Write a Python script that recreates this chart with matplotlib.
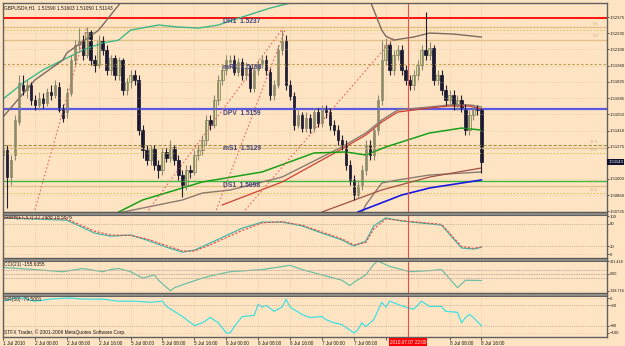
import matplotlib
matplotlib.use("Agg")
import matplotlib.pyplot as plt
from matplotlib.patches import Rectangle
import numpy as np

plt.rcParams["font.family"] = ["Liberation Sans", "DejaVu Sans"]

# GBPUSD H1, bars from 1 Jul 16:00 to 8 Jul 16:00
bar_open = [1.51203, 1.51246, 1.51016, 1.51203, 1.51483, 1.51797, 1.51755, 1.51797, 1.51670, 1.51628,
            1.51687, 1.51645, 1.51738, 1.51712, 1.51780, 1.51602, 1.51568, 1.51729, 1.52010, 1.52137,
            1.52179, 1.52052, 1.52247, 1.52010, 1.51967, 1.52179, 1.52094, 1.51925, 1.52027, 1.51882,
            1.52010, 1.51755, 1.51823, 1.51882, 1.51840, 1.51415, 1.51246, 1.51161, 1.51262, 1.51118,
            1.51076, 1.51229, 1.51178, 1.51271, 1.51161, 1.51033, 1.50948, 1.51076, 1.51059, 1.51203,
            1.51246, 1.51330, 1.51500, 1.51458, 1.51670, 1.51840, 1.51925, 1.51993, 1.52010, 1.51908,
            1.51993, 1.51882, 1.51942, 1.51772, 1.51925, 1.51976, 1.52010, 1.51908, 1.51712, 1.51797,
            1.52094, 1.52179, 1.51797, 1.51704, 1.51458, 1.51543, 1.51432, 1.51517, 1.51432, 1.51568,
            1.51475, 1.51585, 1.51568, 1.51458, 1.51415, 1.51330, 1.51288, 1.51118, 1.50991, 1.50863,
            1.50948, 1.51076, 1.51288, 1.51203, 1.51415, 1.51670, 1.52010, 1.52137, 1.51925, 1.52052,
            1.52094, 1.51925, 1.51840, 1.51797, 1.51882, 1.51967, 1.52094, 1.52052, 1.52111, 1.51840,
            1.51882, 1.51755, 1.51670, 1.51712, 1.51628, 1.51670, 1.51602, 1.51415, 1.51543, 1.51602,
            1.51590]
bar_high = [1.51288, 1.51288, 1.51203, 1.51543, 1.51882, 1.51882, 1.51840, 1.51823, 1.51712, 1.51738,
            1.51729, 1.51772, 1.51797, 1.51840, 1.51823, 1.51636, 1.51772, 1.52052, 1.52179, 1.52281,
            1.52222, 1.52290, 1.52264, 1.52052, 1.52222, 1.52213, 1.52137, 1.52052, 1.52052, 1.52035,
            1.52027, 1.51857, 1.51925, 1.51925, 1.51882, 1.51458, 1.51288, 1.51288, 1.51288, 1.51161,
            1.51262, 1.51262, 1.51330, 1.51288, 1.51203, 1.51076, 1.51118, 1.51118, 1.51246, 1.51288,
            1.51373, 1.51543, 1.51543, 1.51712, 1.51882, 1.51967, 1.52052, 1.52052, 1.52052, 1.52027,
            1.52027, 1.51993, 1.51967, 1.51959, 1.52010, 1.52052, 1.52052, 1.51942, 1.51840, 1.52137,
            1.52264, 1.52222, 1.51840, 1.51738, 1.51585, 1.51568, 1.51568, 1.51551, 1.51602, 1.51602,
            1.51628, 1.51628, 1.51602, 1.51500, 1.51458, 1.51373, 1.51330, 1.51161, 1.51033, 1.50991,
            1.51118, 1.51330, 1.51330, 1.51458, 1.51712, 1.52179, 1.52196, 1.52162, 1.52094, 1.52137,
            1.52137, 1.51967, 1.51882, 1.51925, 1.52010, 1.52137, 1.52417, 1.52162, 1.52137, 1.51925,
            1.51925, 1.51797, 1.51755, 1.51755, 1.51712, 1.51712, 1.51636, 1.51585, 1.51636, 1.51628,
            1.51603]
bar_low = [1.51161, 1.50753, 1.50948, 1.51161, 1.51458, 1.51712, 1.51687, 1.51628, 1.51585, 1.51585,
           1.51602, 1.51619, 1.51670, 1.51687, 1.51568, 1.51483, 1.51517, 1.51704, 1.51967, 1.52094,
           1.52010, 1.52027, 1.51967, 1.51908, 1.51942, 1.52052, 1.51882, 1.51882, 1.51840, 1.51840,
           1.51712, 1.51712, 1.51772, 1.51797, 1.51373, 1.51178, 1.51118, 1.51118, 1.51076, 1.51008,
           1.51033, 1.51144, 1.51144, 1.51118, 1.50991, 1.50846, 1.50906, 1.51008, 1.51033, 1.51161,
           1.51203, 1.51288, 1.51415, 1.51432, 1.51628, 1.51797, 1.51882, 1.51942, 1.51882, 1.51874,
           1.51840, 1.51840, 1.51738, 1.51738, 1.51882, 1.51942, 1.51882, 1.51670, 1.51670, 1.51772,
           1.52052, 1.51755, 1.51670, 1.51415, 1.51432, 1.51398, 1.51398, 1.51390, 1.51398, 1.51441,
           1.51441, 1.51517, 1.51415, 1.51373, 1.51288, 1.51246, 1.51076, 1.50948, 1.50821, 1.50838,
           1.50906, 1.51033, 1.51161, 1.51161, 1.51373, 1.51628, 1.51967, 1.51882, 1.51882, 1.52010,
           1.51882, 1.51797, 1.51755, 1.51755, 1.51840, 1.51925, 1.52010, 1.52010, 1.51797, 1.51797,
           1.51712, 1.51628, 1.51628, 1.51585, 1.51585, 1.51568, 1.51373, 1.51373, 1.51500, 1.51543,
           1.51050]
bar_close = [1.51246, 1.51016, 1.51161, 1.51500, 1.51814, 1.51755, 1.51797, 1.51670, 1.51628, 1.51687,
             1.51645, 1.51738, 1.51712, 1.51797, 1.51585, 1.51517, 1.51729, 1.52010, 1.52137, 1.52179,
             1.52052, 1.52247, 1.52010, 1.51967, 1.52179, 1.52094, 1.51925, 1.52027, 1.51882, 1.52010,
             1.51755, 1.51823, 1.51882, 1.51840, 1.51415, 1.51246, 1.51161, 1.51262, 1.51118, 1.51076,
             1.51229, 1.51178, 1.51271, 1.51161, 1.51033, 1.50948, 1.51076, 1.51059, 1.51203, 1.51246,
             1.51330, 1.51500, 1.51458, 1.51670, 1.51840, 1.51925, 1.52010, 1.52010, 1.51908, 1.51993,
             1.51882, 1.51942, 1.51772, 1.51925, 1.51976, 1.52010, 1.51925, 1.51712, 1.51797, 1.52094,
             1.52179, 1.51797, 1.51704, 1.51458, 1.51543, 1.51432, 1.51517, 1.51432, 1.51568, 1.51475,
             1.51585, 1.51568, 1.51458, 1.51415, 1.51330, 1.51288, 1.51118, 1.50991, 1.50863, 1.50948,
             1.51076, 1.51288, 1.51203, 1.51415, 1.51670, 1.52010, 1.52137, 1.51925, 1.52052, 1.52094,
             1.51925, 1.51840, 1.51797, 1.51882, 1.51967, 1.52094, 1.52052, 1.52111, 1.51840, 1.51882,
             1.51755, 1.51670, 1.51712, 1.51628, 1.51670, 1.51602, 1.51415, 1.51543, 1.51602, 1.51585,
             1.51143]

time_idx = list(range(0, 121, 8))
time_labels = ["1 Jul 2010", "2 Jul 00:00", "2 Jul 08:00", "2 Jul 16:00", "5 Jul 00:00",
               "5 Jul 08:00", "5 Jul 16:00", "6 Jul 00:00", "6 Jul 08:00", "6 Jul 16:00",
               "7 Jul 00:00", "7 Jul 08:00", "7 Jul 16:00", "8 Jul 00:00", "8 Jul 08:00",
               "8 Jul 16:00"]
price_ticks = [1.52375, 1.52235, 1.52100, 1.51960, 1.51825, 1.51685, 1.51550, 1.51410,
               1.51275, 1.51000, 1.50860, 1.50725]

# pivot levels
piv_names = ["DR1", "mR1", "DPV", "mS1", "DS1"]
piv_vals = [1.5237, 1.5198, 1.5159, 1.5129, 1.5098]
# fibonacci levels on the right
fib_solid = [1.52290, 1.52179, 1.51262, 1.50940]
fib_dot = [1.52264, 1.51220, 1.50880]
fib_labels = ["6.6", "2.0", "38.8", "38.6", "38.7", "38.4"]
fib_label_y = [1.52300, 1.52195, 1.51300, 1.51230, 1.50955, 1.50885]

# moving averages and bands (bar index, price)
teal_i = [0, 5, 10, 15, 20, 25, 29, 32, 39, 44, 49, 54, 60, 67, 74, 80]
teal_p = [1.51678, 1.51814, 1.51925, 1.52010, 1.52094, 1.52154, 1.52179, 1.52264, 1.52307, 1.52290,
          1.52281, 1.52307, 1.52375, 1.52451, 1.52510, 1.52604]
gup_i = [0, 8, 15, 16, 24, 31, 60, 91, 92, 95, 96, 98, 103, 107, 113, 120]
gup_p = [1.51526, 1.51840, 1.52010, 1.52069, 1.52264, 1.52561, 1.52859, 1.52561, 1.52519, 1.52264,
         1.52213, 1.52179, 1.52205, 1.52239, 1.52230, 1.52205]
gmid_i = [29, 45, 50, 57, 70, 80, 85, 91, 95, 99, 107, 112, 117, 120]
gmid_p = [1.50711, 1.50821, 1.50880, 1.50906, 1.51016, 1.51186, 1.51271, 1.51390, 1.51500, 1.51585,
          1.51611, 1.51628, 1.51628, 1.51611]
red_i = [55, 70, 80, 85, 91, 95, 99, 107, 112, 117, 120]
red_p = [1.50779, 1.50974, 1.51161, 1.51254, 1.51373, 1.51483, 1.51568, 1.51602, 1.51619, 1.51619,
         1.51594]
green_i = [29, 35, 50, 65, 78, 86, 91, 96, 107, 115, 120]
green_p = [1.50719, 1.50821, 1.50974, 1.51059, 1.51220, 1.51229, 1.51203, 1.51271, 1.51390, 1.51432,
           1.51415]
glow_i = [90, 91, 95, 99, 107, 120]
glow_p = [1.50711, 1.50779, 1.50965, 1.50991, 1.51033, 1.51059]
redlow_i = [80, 95, 107, 120]
redlow_p = [1.50719, 1.50906, 1.51016, 1.51093]
blue_i = [89, 100, 107, 120]
blue_p = [1.50719, 1.50863, 1.50923, 1.50991]

# dotted trend lines (start bar, start price, end bar, end price)
trend_lines = [(8, 1.50736, 21, 1.52290), (36.5, 1.50736, 70.25, 1.52281),
               (53.5, 1.50736, 70.75, 1.52264), (60.75, 1.50736, 98, 1.52196)]

# indicators
sto_i = [0, 16, 23, 27, 32, 36, 41, 45, 48, 52, 60, 65, 70, 75, 80, 85, 88, 91, 93, 96, 100, 110, 115, 118, 120]
sto_main = [95, 89, 55, 47, 50, 37, 18, 5, 10, 29, 68, 84, 84, 74, 55, 37, 21, 34, 74, 95, 87, 76, 16, 13, 17.8]
sto_sig = [96, 92, 60, 50, 49, 40, 22, 8, 8, 24, 62, 82, 85, 76, 58, 40, 24, 30, 66, 92, 88, 78, 20, 15, 18.6]

cci_i = [0, 8, 15, 20, 25, 27, 29, 32, 35, 38, 39, 42, 43, 46, 50, 52, 57, 65, 72, 75,
         80, 85, 87, 88, 91, 93, 94, 97, 100, 102, 107, 110, 114, 116, 120]
cci_v = [151, 101, 51, 126, 51, 101, 126, 51, -99, -24, -149, -398, -324, -224, -99, -49, 51, 101, 201, 101,
         -24, -149, -274, -199, -24, 226, 301, 176, 101, 51, 76, 101, -324, -149, -155.6]

wpr_i = [0, 3, 5, 8, 12, 16, 17, 20, 25, 29, 33, 37, 40, 41, 45, 48, 50, 52, 54, 56,
         57, 58, 60, 63, 64, 65, 66, 68, 70, 71, 72, 75, 77, 80, 81, 83, 85, 88, 89, 90,
         91, 93, 95, 96, 97, 99, 101, 103, 105, 107, 110, 111, 114, 115, 116, 117, 118, 120]
wpr_v = [-9, 0, 0, -9, -3, 0, 0, -3, -3, -9, -9, -12, -9, -24, -53, -79, -71, -56, -71, -100,
         -100, -82, -53, -50, -18, -26, -21, -38, -26, -3, -26, -47, -56, -53, -62, -71, -76, -100, -91, -71,
         -82, -62, -12, -26, -9, -18, -26, -32, -9, -24, -24, -38, -41, -71, -56, -47, -56, -79.5]

BG = "#FFE4C4"
TXT = "#1A1A1A"
FS = 3.5
W, H = 625, 346
fig = plt.figure(figsize=(6.25, 3.46), dpi=100)
fig.patch.set_facecolor(BG)


def rect(x0, y0, x1, y1):
    return [x0 / W, 1 - y1 / H, (x1 - x0) / W, (y1 - y0) / H]


# separators between the panels
for y0, y1 in ((211.5, 214.5), (257.5, 260.5), (292.5, 295.5)):
    fig.patches.append(Rectangle((3 / W, 1 - y1 / H), 604 / W, (y1 - y0) / H, transform=fig.transFigure,
                                 fc="#8E8A86", ec="#555555", lw=0.6))

ax = fig.add_axes(rect(3, 3, 607, 212))
ax_s = fig.add_axes(rect(3, 214, 607, 258), sharex=ax)
ax_c = fig.add_axes(rect(3, 260, 607, 293), sharex=ax)
ax_w = fig.add_axes(rect(3, 295, 607, 337), sharex=ax)

for a in (ax, ax_s, ax_c, ax_w):
    a.set_facecolor(BG)
    for s in a.spines.values():
        s.set_color("#606060")
        s.set_linewidth(1.0)
    a.yaxis.tick_right()
    a.tick_params(axis="y", labelsize=3.1, length=1.5, width=0.5, pad=0.6, colors=TXT)
    a.tick_params(axis="x", length=0, labelbottom=False)
    a.grid(True, color="#DCC4A2", ls=":", lw=0.5)

ax.set_xlim(0.5, 151.5)

# horizontal levels
ax.axhline(piv_vals[0], color="#FF0000", lw=1.3)
for yv in fib_solid:
    ax.axhline(yv, color="#DEC28A", lw=1.0)
for yv in fib_dot:
    ax.axhline(yv, color="#D8C860", lw=0.8, ls=(0, (1.5, 1.5)))
ax.axhline(piv_vals[1], color="#B89A40", lw=0.8, ls=(0, (2, 2)))
ax.axhline(piv_vals[3], color="#A09040", lw=0.8, ls=(0, (3, 1.5)))
ax.axhline(piv_vals[2], color="#5A5AE0", lw=1.6)
ax.axhline(piv_vals[4], color="#40B840", lw=1.0)
for t, v in zip(fib_labels, fib_label_y):
    ax.text(0.985, v, t, transform=ax.get_yaxis_transform(), fontsize=3.0, color="#C8B080",
            ha="right", va="bottom")

for t, v in zip(piv_names, piv_vals):
    ax.text(55.3, v - 0.00004, f"{t}  {v:.4f}", fontsize=4.8, color="#44447A", va="top",
            fontweight="bold")

ax.plot(teal_i, teal_p, color="#3CB88A", lw=1.0)
ax.plot(gup_i, gup_p, color="#7A6A60", lw=1.0)
ax.plot(gmid_i, gmid_p, color="#8A7A70", lw=1.0)
ax.plot(red_i, red_p, color="#D04030", lw=0.9)
ax.plot(green_i, green_p, color="#18A018", lw=1.1)
ax.plot(glow_i, glow_p, color="#8A7A70", lw=1.0)
ax.plot(redlow_i, redlow_p, color="#A05040", lw=0.9)
ax.plot(blue_i, blue_p, color="#1818E0", lw=1.2)

for (x0, p0, x1, p1) in trend_lines:
    ax.plot([x0, x1], [p0, p1], color="#F06060", lw=0.8, ls=(0, (1.5, 2)))

# candles
o = np.array(bar_open)
c = np.array(bar_close)
x = np.arange(len(o))
up = c >= o
ax.vlines(x, bar_low, bar_high, color=np.where(up, "#8A8A70", "#202030"), lw=0.8)
ax.bar(x[up], (c - o)[up], bottom=o[up], width=0.62, color="#EEE6A0", edgecolor="#7C7C5C", lw=0.5)
ax.bar(x[~up], (o - c)[~up], bottom=c[~up], width=0.62, color="#141430", edgecolor="#141430", lw=0.5)

ax.set_ylim(1.50719, 1.52494)
ax.set_yticks(price_ticks)
ax.set_yticklabels([f"{v:.5f}" for v in price_ticks])
ax.text(1.0025, bar_close[-1], f"{bar_close[-1]:.5f}", transform=ax.get_yaxis_transform(), fontsize=3.1,
        color="white", va="center", ha="left", bbox=dict(boxstyle="square,pad=0.25", fc="#101030", ec="none"))
ax.text(0.002, 0.99, f"GBPUSD#,H1  {bar_open[-1]:.5f} {bar_high[-1]:.5f} {bar_low[-1]:.5f} {bar_close[-1]:.5f}",
        transform=ax.transAxes, fontsize=FS, color=TXT, va="top")

# stochastic
ax_s.plot(sto_i, sto_main, color="#40B8A8", lw=0.9)
ax_s.plot(sto_i, sto_sig, color="#F04040", lw=0.8, ls=(0, (2, 1.5)))
ax_s.set_ylim(-10.5, 105.3)
ax_s.set_yticks([100, 80, 20, 0])
for lv in (80, 20):
    ax_s.axhline(lv, color="#B8A890", lw=0.5, ls=":")
ax_s.text(0.002, 0.97, "Stoch(17,3,7) 17.7988 18.5876", transform=ax_s.transAxes, fontsize=FS,
          color=TXT, va="top")

# CCI
ax_c.plot(cci_i, cci_v, color="#6CC0A0", lw=0.9)
ax_c.set_ylim(-449, 326)
ax_c.set_yticks([301.418, 0, -398.716])
ax_c.set_yticklabels(["301.418", "0.00", "-398.716"])
ax_c.tick_params(axis="y", labelsize=2.7)
for lv in (100, 0, -100):
    ax_c.axhline(lv, color="#C8A8A0", lw=0.6, ls=(0, (2, 1)))
ax_c.text(0.002, 0.95, "CCI(21) -155.6355", transform=ax_c.transAxes, fontsize=FS,
          color=TXT, va="top")

# Williams %R
ax_w.plot(wpr_i, wpr_v, color="#40E0E0", lw=0.9)
ax_w.set_ylim(-111.8, 8.8)
ax_w.set_yticks([0, -20, -80, -100])
for lv in (-20, -80):
    ax_w.axhline(lv, color="#B8A890", lw=0.5, ls=":")
ax_w.text(0.002, 0.95, "%R(50) -79.5001", transform=ax_w.transAxes, fontsize=FS,
          color=TXT, va="top")
ax_w.text(0.002, 0.05, "STFX Trader, \u00a9 2001-2009 MetaQuotes Software Corp.", transform=ax_w.transAxes,
          fontsize=FS, color=TXT, va="bottom")

# time axis
ax_w.set_xticks(time_idx)
ax_w.tick_params(axis="x", length=2, width=0.5, labelbottom=True, labelsize=3.4, pad=1, colors=TXT)
ax_w.set_xticklabels(time_labels, ha="left")
for lab, t in zip(ax_w.get_xticklabels(), time_labels):
    if t in ("7 Jul 16:00", "8 Jul 00:00"):
        lab.set_visible(False)

for a in (ax, ax_s, ax_c, ax_w):
    a.axvline(101.6, color="#E05050", lw=0.8)
ax_w.text(101.6, -119, "2010.07.07 22:00", fontsize=3.4, color="white", ha="center", va="top",
          bbox=dict(boxstyle="square,pad=0.25", fc="#FF0000", ec="none"), clip_on=False, zorder=10)

fig.savefig("out.png", dpi=100, facecolor=BG)
